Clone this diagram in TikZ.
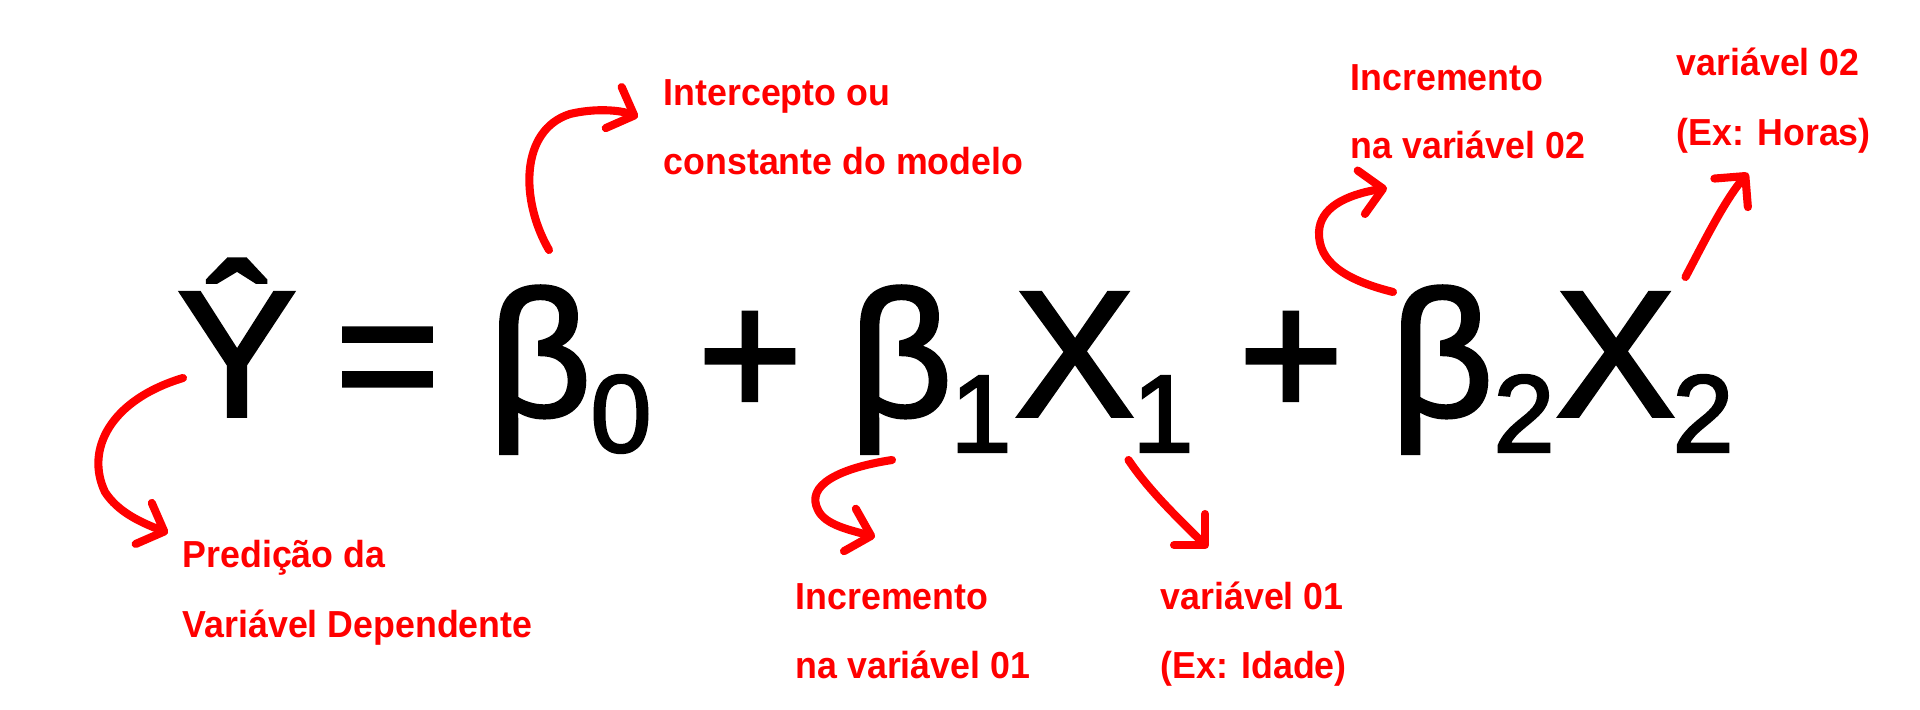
\documentclass[tikz,border=0pt]{standalone}
\usepackage{fontspec}
\usetikzlibrary{arrows.meta}
\newfontfamily\eqfont[FakeBold=2]{Liberation Sans}
\newfontfamily\lblfont[FakeStretch=0.95]{Liberation Sans}

\begin{document}
\begin{tikzpicture}[x=0.01cm,y=-0.01cm,>={Straight Barb[round,length=2.2mm,width=4.4mm]},
  sym/.style={font=\eqfont\fontsize{51}{51}\selectfont, anchor=base, inner sep=0},
  sub/.style={font=\eqfont\fontsize{31.4}{31.4}\selectfont, anchor=base, inner sep=0},
  lbl/.style={red, font=\lblfont\bfseries\fontsize{10.7}{13}\selectfont, anchor=base west, inner sep=0},
  seta/.style={red, line width=2.3pt, line cap=round, line join=round, ->}]
\useasboundingbox (0,0) rectangle (1920,710);
\node[sym] (yhat) at (237,416) {Ŷ};
\node[sym] (eq) at (387.5,416) {=};
\node[sym] (b0) at (540,416) {β};
\node[sub] (s0) at (621,452) {0};
\node[sym] (p1) at (750,416) {+};
\node[sym] (b1) at (901,416) {β};
\node[sub] (s1) at (981,452) {1};
\node[sym] (x1) at (1074.5,416) {X};
\node[sub] (sx1) at (1163,452) {1};
\node[sym] (p2) at (1291,416) {+};
\node[sym] (b2) at (1442,416) {β};
\node[sub] (s2) at (1524,452) {2};
\node[sym] (x2) at (1615.5,416) {X};
\node[sub] (sx2) at (1703,452) {2};
\node[lbl] (pred) at (182,568) {Predição da};
\node[lbl] (pred2) at (182,638) {Variável Dependente};
\node[lbl] (icp) at (663,106) {Intercepto ou};
\node[lbl] (icp2) at (663,175) {constante do modelo};
\node[lbl] (inc1) at (795,610) {Incremento};
\node[lbl] (inc1b) at (795,679) {na variável 01};
\node[lbl] (var1) at (1160,610) {variável 01};
\node[lbl] (var1b) at (1160,679) {(Ex: Idade)};
\node[lbl] (inc2) at (1350,91) {Incremento};
\node[lbl] (inc2b) at (1350,159) {na variável 02};
\node[lbl] (var2) at (1676,76) {variável 02};
\node[lbl] (var2b) at (1676,146) {(Ex: Horas)};
\draw[seta] ([shift={(-54,-38)}]yhat.base) .. controls (110,400) and (85,450) .. (105,492) .. controls (118,512) and (140,522) .. ([shift={(-14,-35)}]pred.base west);
\draw[seta] ([shift={(9,-166)}]b0.base) .. controls (520,200) and (520,130) .. (570,114) .. controls (595,108) and (620,110) .. ([shift={(-25,11)}]icp.base west);
\draw[seta] ([shift={(-9,44)}]b1.base) .. controls (840,468) and (805,485) .. (818,510) .. controls (825,525) and (850,530) .. ([shift={(80,-73)}]inc1.base west);
\draw[seta] ([shift={(54,44)}]x1.base) .. controls (1150,492) and (1180,520) .. ([shift={(48,-62)}]var1.base west);
\draw[seta] ([shift={(-49,-124)}]b2.base) .. controls (1345,280) and (1318,262) .. (1319,232) .. controls (1320,208) and (1345,195) .. ([shift={(37,97)}]inc2.base west);
\draw[seta] ([shift={(70,-139)}]x2.base) .. controls (1705,240) and (1725,200) .. ([shift={(72,97)}]var2.base west);
\end{tikzpicture}
\end{document}
